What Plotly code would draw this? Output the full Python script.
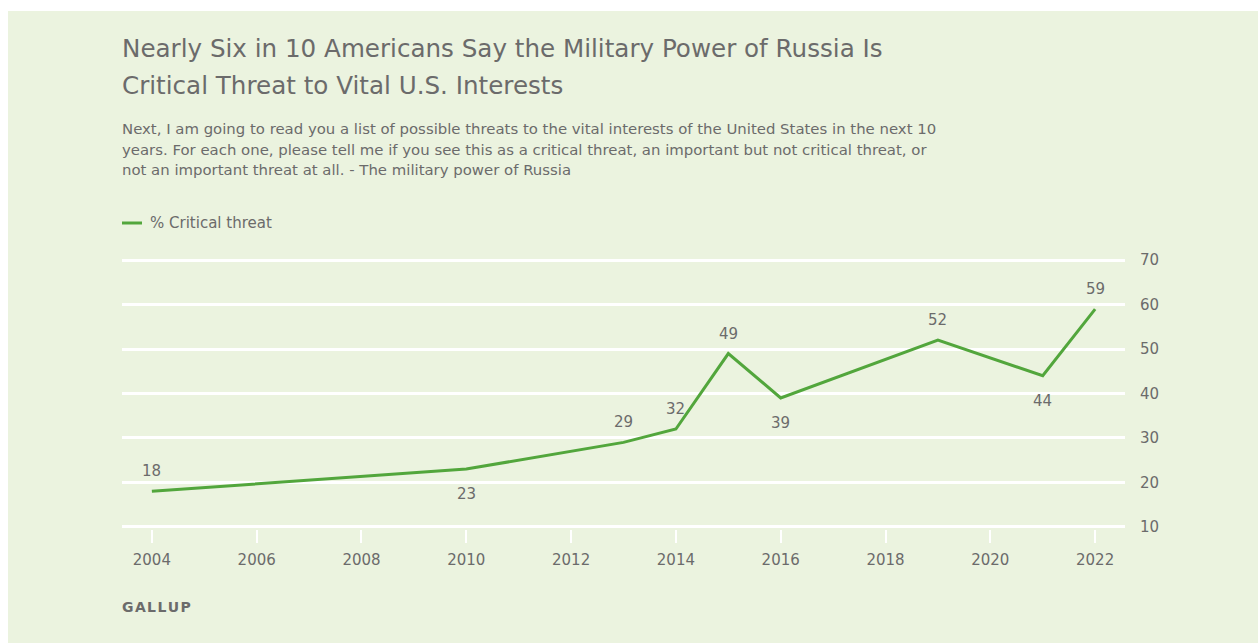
import plotly.graph_objects as go

years = [2004, 2010, 2013, 2014, 2015, 2016, 2019, 2021, 2022]
critical = [18, 23, 29, 32, 49, 39, 52, 44, 59]
label_pos = ["above", "below", "above", "above", "above", "below", "above", "below", "above"]
x_ticks = [2004, 2006, 2008, 2010, 2012, 2014, 2016, 2018, 2020, 2022]
y_ticks = [10, 20, 30, 40, 50, 60, 70]

title_lines = ["Nearly Six in 10 Americans Say the Military Power of Russia Is",
               "Critical Threat to Vital U.S. Interests"]
subtitle_lines = ["Next, I am going to read you a list of possible threats to the vital interests of the United States in the next 10",
                  "years. For each one, please tell me if you see this as a critical threat, an important but not critical threat, or",
                  "not an important threat at all. - The military power of Russia"]
legend_name = "% Critical threat"
source = "GALLUP"

W, H = 1258, 643
L, R, T, B = 122, 133, 258, 114
PW, PH = W - L - R, H - T - B

def px(x):
    return (x - L) / PW

def py(y):
    return (H - B - y) / PH

GREEN = "#52A63C"
TXT = "#6b6b6b"
BG = "#EBF3DF"
FONT = "DejaVu Sans"

fig = go.Figure()
fig.add_trace(go.Scatter(x=years, y=critical, mode="lines", name=legend_name,
                         line=dict(color=GREEN, width=3), showlegend=False,
                         hoverinfo="x+y"))

annotations = []
for xv, yv, pos in zip(years, critical, label_pos):
    annotations.append(dict(x=xv, y=yv, xref="x", yref="y", text=str(yv), showarrow=False,
                            yshift=20 if pos == "above" else -25,
                            font=dict(family=FONT, size=15, color=TXT)))

title_y = [48, 85]
for t, yy in zip(title_lines, title_y):
    annotations.append(dict(x=px(120), y=py(yy), xref="paper", yref="paper", text=t, showarrow=False,
                            xanchor="left", yanchor="middle",
                            font=dict(family=FONT, size=24.6, color=TXT)))
sub_y = [129, 150, 170]
for t, yy in zip(subtitle_lines, sub_y):
    annotations.append(dict(x=px(120), y=py(yy), xref="paper", yref="paper", text=t, showarrow=False,
                            xanchor="left", yanchor="middle",
                            font=dict(family=FONT, size=14.9, color=TXT)))
annotations.append(dict(x=px(148), y=py(223), xref="paper", yref="paper", text=legend_name, showarrow=False,
                        xanchor="left", yanchor="middle",
                        font=dict(family=FONT, size=15, color=TXT)))
annotations.append(dict(x=px(120), y=py(607), xref="paper", yref="paper",
                        text="<b>" + "&#8202;".join(source) + "</b>", showarrow=False,
                        xanchor="left", yanchor="middle",
                        font=dict(family=FONT, size=14, color=TXT)))

shapes = [
    dict(type="rect", xref="paper", yref="paper", x0=px(8), x1=px(W + 5), y0=py(11), y1=py(H + 5),
         fillcolor=BG, line=dict(width=0), layer="below"),
    dict(type="line", xref="paper", yref="paper", x0=px(122), x1=px(142), y0=py(223), y1=py(223),
         line=dict(color=GREEN, width=3)),
]

fig.update_layout(
    width=W, height=H,
    margin=dict(l=L, r=R, t=T, b=B),
    paper_bgcolor="white",
    plot_bgcolor="rgba(0,0,0,0)",
    annotations=annotations,
    shapes=shapes,
    font=dict(family=FONT, color=TXT),
    xaxis=dict(range=[2003.43, 2022.57], tickvals=x_ticks, showgrid=False, zeroline=False,
               showline=False, ticks="outside", ticklen=13, tickwidth=2, tickcolor="white",
               ticklabelstandoff=4,
               tickfont=dict(family=FONT, size=15, color=TXT), fixedrange=True),
    yaxis=dict(range=[9.5, 70.5], tickvals=y_ticks, side="right", showgrid=True,
               gridcolor="white", gridwidth=2.5, zeroline=False, showline=False,
               ticks="", ticklabelstandoff=14,
               tickfont=dict(family=FONT, size=15, color=TXT), fixedrange=True),
)

fig.write_html("out.html")
